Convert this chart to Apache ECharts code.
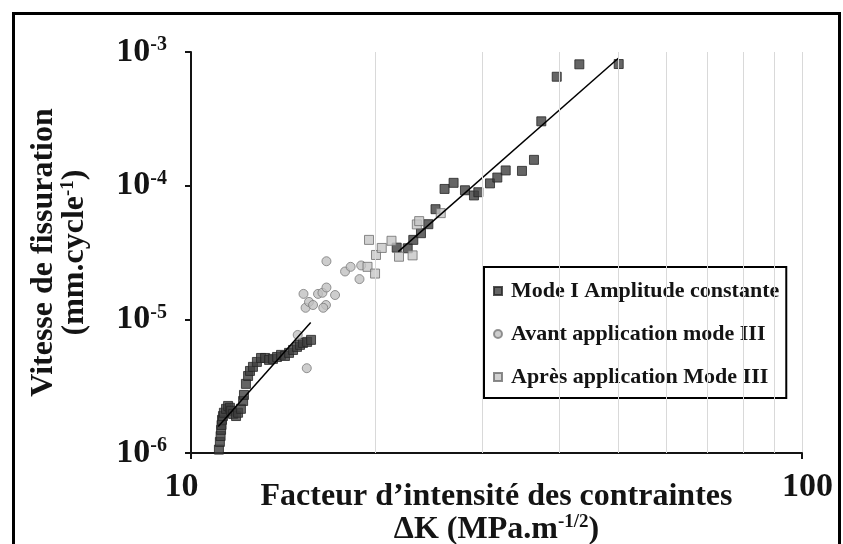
<!DOCTYPE html>
<html>
<head>
<meta charset="utf-8">
<script src="https://cdn.jsdelivr.net/npm/echarts@6/dist/echarts.min.js"></script>
<style>
  html, body { margin: 0; padding: 0; background: #fff; }
  #chart { width: 843px; height: 544px; }
</style>
</head>
<body>
<div id="chart"></div>
<script>
// Mode I, constant amplitude: ΔK (MPa.m^-1/2) and da/dN (mm/cycle)
const modeI_dK = [11.11, 11.15, 11.18, 11.20, 11.22, 11.24, 11.28, 11.32, 11.41, 11.50,
  11.58, 11.63, 11.72, 11.85, 11.94, 12.07, 12.17, 12.21, 12.30, 12.40,
  12.49, 12.63, 12.82, 13.02, 13.22, 13.42, 13.62, 13.83, 14.04, 14.25,
  14.47, 14.69, 14.91, 15.08, 15.25, 15.49, 15.72,
  21.71, 22.63, 23.11, 23.79, 24.46, 25.13, 26.00, 26.90, 28.08, 29.05,
  29.53, 30.86, 31.72, 32.74, 34.81, 36.42, 37.44, 39.68, 43.21, 50.12];
const modeI_rate = [1.06e-6, 1.21e-6, 1.34e-6, 1.49e-6, 1.62e-6, 1.77e-6, 1.89e-6, 2.00e-6, 2.14e-6, 2.25e-6,
  2.18e-6, 2.07e-6, 1.96e-6, 1.89e-6, 2.00e-6, 2.14e-6, 2.45e-6, 2.72e-6, 3.29e-6, 3.77e-6,
  4.11e-6, 4.41e-6, 4.80e-6, 5.14e-6, 5.14e-6, 4.97e-6, 5.06e-6, 5.23e-6, 5.42e-6, 5.32e-6,
  5.61e-6, 5.90e-6, 6.22e-6, 6.44e-6, 6.66e-6, 6.78e-6, 7.02e-6,
  3.44e-5, 3.40e-5, 3.93e-5, 4.41e-5, 5.15e-5, 6.67e-5, 9.45e-5, 1.05e-4, 9.24e-5, 8.45e-5,
  8.93e-5, 1.04e-4, 1.15e-4, 1.30e-4, 1.29e-4, 1.56e-4, 3.03e-4, 6.53e-4, 8.09e-4, 8.13e-4];

// Before mode III loading
const avant_dK = [14.95, 15.47, 15.28, 15.40, 15.60, 15.84, 16.14, 16.41, 16.66, 17.21,
  16.63, 16.46, 16.66, 17.87, 18.25, 18.99, 18.87];
const avant_rate = [7.64e-6, 4.31e-6, 1.55e-5, 1.22e-5, 1.35e-5, 1.28e-5, 1.55e-5, 1.58e-5, 1.73e-5, 1.52e-5,
  1.28e-5, 1.22e-5, 2.72e-5, 2.28e-5, 2.47e-5, 2.53e-5, 2.00e-5];

// After mode III loading
const apres_dK = [19.56, 20.08, 20.52, 21.29, 19.45, 20.01, 21.90, 23.05, 23.42, 23.63, 25.63];
const apres_rate = [3.93e-5, 3.03e-5, 3.42e-5, 3.87e-5, 2.47e-5, 2.20e-5, 2.94e-5, 3.01e-5, 5.13e-5, 5.43e-5, 6.23e-5];

// Power-law trend lines (end points)
const fit1_dK = [11.08, 15.70];
const fit1_rate = [1.58e-6, 9.45e-6];
const fit2_dK = [21.84, 50.04];
const fit2_rate = [3.21e-5, 8.97e-4];

// Minor vertical grid lines on the log ΔK axis
const minorGridK = [20, 30, 40, 50, 60, 70, 80, 90];

const seriesNames = ['Mode I Amplitude constante', 'Avant application mode III', 'Après application Mode III'];

const serif = "'Liberation Serif', 'Times New Roman', serif";
const ink = '#141414';
const pairs = (xs, ys) => xs.map((x, i) => [x, ys[i]]);

const chart = echarts.init(document.getElementById('chart'), null, { renderer: 'canvas' });

const option = {
  animation: false,
  backgroundColor: '#ffffff',
  graphic: [{
    type: 'rect',
    shape: { x: 13.5, y: 13.5, width: 826, height: 600 },
    style: { fill: 'none', stroke: '#000', lineWidth: 3 },
    silent: true,
    z: 100
  }],
  grid: { left: 191, right: 41, top: 52, bottom: 91, outerBoundsMode: 'none', containLabel: false },
  xAxis: {
    type: 'log',
    logBase: 10,
    min: 10,
    max: 100,
    axisLine: { show: true, lineStyle: { color: ink, width: 2 } },
    axisTick: { show: true, inside: false, length: 6, lineStyle: { color: ink, width: 2 } },
    axisLabel: {
      margin: 17,
      color: ink,
      formatter: v => (v < 50 ? '{l|' : '{r|') + Math.round(v) + '}',
      rich: {
        l: { fontFamily: serif, fontWeight: 'bold', fontSize: 34, lineHeight: 34, color: ink, padding: [0, 19, 0, 0] },
        r: { fontFamily: serif, fontWeight: 'bold', fontSize: 34, lineHeight: 34, color: ink, padding: [0, 0, 0, 11] }
      }
    },
    splitLine: { show: true, lineStyle: { color: '#d9d9d9', width: 1 } },
    name: '{t|Facteur d’intensité des contraintes}\n{t|ΔK (MPa.m}{s|-1/2}{t|)}',
    nameLocation: 'middle',
    nameGap: 27,
    nameMoveOverlap: false,
    nameTextStyle: {
      rich: {
        t: { fontFamily: serif, fontWeight: 'bold', fontSize: 32, lineHeight: 33, color: ink },
        s: { fontFamily: serif, fontWeight: 'bold', fontSize: 19, lineHeight: 22, verticalAlign: 'top', color: ink }
      }
    }
  },
  yAxis: {
    type: 'log',
    logBase: 10,
    min: 1e-6,
    max: 1e-3,
    axisLine: { show: true, lineStyle: { color: ink, width: 2 } },
    axisTick: { show: true, inside: false, length: 6, lineStyle: { color: ink, width: 2 } },
    axisLabel: {
      margin: 24,
      formatter: v => '{b|10}{s|' + Math.round(Math.log10(v)) + '}',
      rich: {
        b: { fontFamily: serif, fontWeight: 'bold', fontSize: 34, lineHeight: 34, color: ink },
        s: { fontFamily: serif, fontWeight: 'bold', fontSize: 20, lineHeight: 20, verticalAlign: 'top', color: ink }
      }
    },
    splitLine: { show: false },
    name: '{t|Vitesse de fissuration}\n{t|(mm.cycle}{s|-1}{t|)}',
    nameLocation: 'middle',
    nameRotate: 90,
    nameGap: 101,
    nameMoveOverlap: false,
    nameTextStyle: {
      rich: {
        t: { fontFamily: serif, fontWeight: 'bold', fontSize: 32, lineHeight: 31, color: ink },
        s: { fontFamily: serif, fontWeight: 'bold', fontSize: 19, lineHeight: 20, verticalAlign: 'top', color: ink }
      }
    }
  },
  legend: {
    data: seriesNames,
    orient: 'vertical',
    left: 484,
    top: 267,
    padding: [13, 7, 10, 9],
    itemGap: 21,
    itemWidth: 8,
    itemHeight: 8,
    selectedMode: false,
    backgroundColor: '#ffffff',
    borderColor: '#000',
    borderWidth: 2,
    textStyle: { fontFamily: serif, fontWeight: 'bold', fontSize: 22, lineHeight: 22, color: ink, padding: [0, 0, 0, 4] }
  },
  series: [
    {
      name: 'grille',
      type: 'line',
      data: [],
      z: 1,
      markLine: {
        silent: true,
        symbol: 'none',
        label: { show: false },
        lineStyle: { color: '#d9d9d9', width: 1, type: 'solid' },
        data: minorGridK.map(k => ({ xAxis: k }))
      }
    },
    {
      name: seriesNames[0],
      type: 'scatter',
      symbol: 'rect',
      symbolSize: 9,
      z: 3,
      itemStyle: { color: '#3f3f3f', borderColor: '#262626', borderWidth: 1 },
      data: pairs(modeI_dK, modeI_rate)
    },
    {
      name: seriesNames[1],
      type: 'scatter',
      symbol: 'circle',
      symbolSize: 9,
      z: 3,
      itemStyle: { color: '#c0c0c0', borderColor: '#7a7a7a', borderWidth: 1 },
      data: pairs(avant_dK, avant_rate)
    },
    {
      name: seriesNames[2],
      type: 'scatter',
      symbol: 'rect',
      symbolSize: 9,
      z: 3,
      itemStyle: { color: '#c6c6c6', borderColor: '#6e6e6e', borderWidth: 1 },
      data: pairs(apres_dK, apres_rate)
    },
    {
      name: 'tendance 1',
      type: 'line',
      symbol: 'none',
      z: 4,
      lineStyle: { color: '#000', width: 1.5 },
      data: pairs(fit1_dK, fit1_rate)
    },
    {
      name: 'tendance 2',
      type: 'line',
      symbol: 'none',
      z: 4,
      lineStyle: { color: '#000', width: 1.5 },
      data: pairs(fit2_dK, fit2_rate)
    }
  ]
};

chart.setOption(option);
</script>
</body>
</html>
